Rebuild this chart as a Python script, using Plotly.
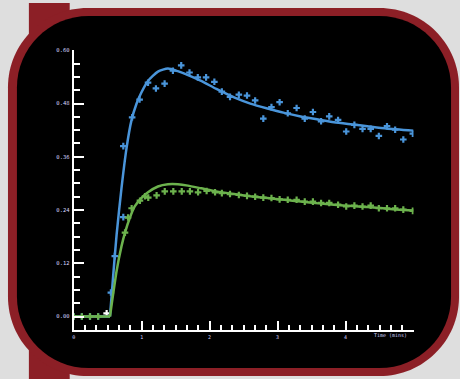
import plotly.graph_objects as go

# ---------------- data ----------------
blue_pts_x = [0.0, 0.12, 0.24, 0.36, 0.485, 0.547, 0.605, 0.73, 0.73, 0.86, 0.97, 1.094, 1.21, 1.338,
              1.46, 1.582, 1.704, 1.826, 1.948, 2.07, 2.18, 2.30, 2.43, 2.55, 2.67, 2.79, 2.91,
              3.03, 3.15, 3.28, 3.40, 3.52, 3.64, 3.76, 3.89, 4.01, 4.13, 4.25, 4.37, 4.49, 4.61,
              4.73, 4.85, 4.99]
blue_pts_y = [0.0, 0.0, 0.0, 0.0, 0.007, 0.054, 0.136, 0.224, 0.384, 0.449, 0.489, 0.527, 0.514, 0.525,
              0.554, 0.566, 0.550, 0.539, 0.539, 0.529, 0.507, 0.495, 0.500, 0.498, 0.487, 0.446, 0.472,
              0.483, 0.458, 0.470, 0.446, 0.461, 0.440, 0.451, 0.443, 0.417, 0.432, 0.423, 0.423, 0.407,
              0.429, 0.421, 0.399, 0.412]

green_pts_x = [0.0, 0.12, 0.24, 0.36, 0.755, 0.80, 0.853, 0.975, 1.049, 1.097, 1.22, 1.34, 1.466, 1.59,
               1.71, 1.83, 1.956, 2.08, 2.18, 2.30, 2.43, 2.55, 2.67, 2.79, 2.91, 3.03, 3.15, 3.28,
               3.40, 3.52, 3.64, 3.76, 3.89, 4.01, 4.13, 4.25, 4.37, 4.49, 4.61, 4.73, 4.85, 4.99]
green_pts_y = [0.0, 0.0, 0.0, 0.0, 0.189, 0.223, 0.244, 0.261, 0.271, 0.268, 0.273, 0.282, 0.282, 0.282,
               0.282, 0.280, 0.283, 0.280, 0.278, 0.276, 0.274, 0.272, 0.270, 0.268, 0.267, 0.264,
               0.263, 0.263, 0.259, 0.259, 0.256, 0.256, 0.252, 0.248, 0.250, 0.248, 0.250, 0.244,
               0.244, 0.244, 0.241, 0.238]

blue_fit_x = [0.0, 0.534, 0.58, 0.632, 0.703, 0.776, 0.850, 0.923, 0.996, 1.094, 1.240, 1.387, 1.53,
              1.70, 1.875, 2.10, 2.36, 2.60, 2.85, 3.10, 3.34, 3.60, 3.83, 4.10, 4.32, 4.60, 5.0]
blue_fit_y = [0.0, 0.0, 0.09, 0.185, 0.289, 0.378, 0.442, 0.479, 0.505, 0.531, 0.552, 0.559, 0.553,
              0.543, 0.531, 0.513, 0.494, 0.480, 0.469, 0.459, 0.451, 0.444, 0.438, 0.433, 0.429,
              0.424, 0.419]

green_fit_x = [0.0, 0.534, 0.632, 0.703, 0.755, 0.825, 0.898, 0.996, 1.094, 1.240, 1.387, 1.533, 1.680,
               1.875, 2.10, 2.36, 2.60, 2.85, 3.10, 3.34, 3.60, 3.83, 4.10, 4.32, 4.60, 5.0]
green_fit_y = [0.0, 0.0, 0.103, 0.158, 0.189, 0.222, 0.248, 0.267, 0.280, 0.293, 0.298, 0.298, 0.295,
               0.289, 0.282, 0.276, 0.271, 0.267, 0.263, 0.259, 0.255, 0.252, 0.249, 0.247, 0.243,
               0.239]

y_major = [0.0, 0.12, 0.24, 0.36, 0.48, 0.60]
y_labels = ["0.00", "0.12", "0.24", "0.36", "0.48", "0.60"]
x_major = [0, 1, 2, 3, 4, 5]
x_labels = ["0", "1", "2", "3", "4", ""]
x_title = "Time (mins)"

# ---------------- style / geometry ----------------
W, H = 460, 379
BLUE = "#4a95da"
GREEN = "#6cb24d"
RED = "#8c1f26"
LABEL = "#d4d4ff"
FONT = "DejaVu Sans Mono"


def px(x):
    return x / W


def py(y):
    return 1 - y / H


def rrect(x0, y0, x1, y1, r):
    k = 0.5523 * r
    pts = [
        ("M", [(x0 + r, y0)]),
        ("L", [(x1 - r, y0)]),
        ("C", [(x1 - r + k, y0), (x1, y0 + r - k), (x1, y0 + r)]),
        ("L", [(x1, y1 - r)]),
        ("C", [(x1, y1 - r + k), (x1 - r + k, y1), (x1 - r, y1)]),
        ("L", [(x0 + r, y1)]),
        ("C", [(x0 + r - k, y1), (x0, y1 - r + k), (x0, y1 - r)]),
        ("L", [(x0, y0 + r)]),
        ("C", [(x0, y0 + r - k), (x0 + r - k, y0), (x0 + r, y0)]),
    ]
    s = ""
    for cmd, ps in pts:
        s += cmd + " " + " ".join(f"{px(a):.5f},{py(b):.5f}" for a, b in ps) + " "
    return s + "Z"


# axis pixel geometry
X_LEFT, X_RIGHT = 72, 413.3
Y_TOP, Y_BOT = 47.7, 330
Y_ZERO = 316
y_per_px = 0.60 / (Y_ZERO - Y_TOP)
y_min = -(Y_BOT - Y_ZERO) * y_per_px

y_minor = [round(i * 0.03, 2) for i in range(21) if i % 4 != 0]
x_minor = [i / 6 for i in range(31) if i % 6 != 0]

fig = go.Figure()


def add_fit(xs, ys, color):
    # flat baseline part drawn straight, rising/decaying part smoothed
    fig.add_trace(go.Scatter(x=xs[:2], y=ys[:2], mode="lines",
                             line=dict(color=color, width=2.5),
                             showlegend=False, hoverinfo="skip"))
    fig.add_trace(go.Scatter(x=xs[1:], y=ys[1:], mode="lines",
                             line=dict(color=color, width=2.5, shape="spline", smoothing=0.6),
                             showlegend=False, hoverinfo="skip"))


fig.add_trace(go.Scatter(x=blue_pts_x, y=blue_pts_y, mode="markers",
                         marker=dict(symbol="cross", size=5.5,
                                     color=["#ffffff" if 0.4 < v < 0.5 else BLUE for v in blue_pts_x]),
                         showlegend=False, hoverinfo="skip"))
add_fit(blue_fit_x, blue_fit_y, BLUE)
fig.add_trace(go.Scatter(x=green_pts_x, y=green_pts_y, mode="markers",
                         marker=dict(symbol="cross", size=5.5, color=GREEN),
                         showlegend=False, hoverinfo="skip"))
add_fit(green_fit_x, green_fit_y, GREEN)

shapes = [
    dict(type="rect", xref="paper", yref="paper", x0=px(27), x1=px(68), y0=0, y1=1,
         fillcolor=RED, line=dict(width=0), layer="below"),
    dict(type="path", xref="paper", yref="paper", path=rrect(6, 5, 459, 376, 80),
         fillcolor=RED, line=dict(width=0), layer="below"),
    dict(type="path", xref="paper", yref="paper", path=rrect(15, 13, 451, 368, 72),
         fillcolor="#000000", line=dict(width=0), layer="below"),
]

fig.update_layout(
    width=W, height=H,
    margin=dict(l=0, r=0, t=0, b=0),
    paper_bgcolor="#dedede",
    plot_bgcolor="rgba(0,0,0,0)",
    shapes=shapes,
    xaxis=dict(
        domain=[px(X_LEFT), px(X_RIGHT)], range=[0, 5],
        showgrid=False, zeroline=False,
        showline=True, linecolor="#ffffff", linewidth=2,
        ticks="inside", ticklen=9, tickwidth=2, tickcolor="#ffffff",
        tickmode="array", tickvals=x_major, ticktext=x_labels,
        tickfont=dict(family=FONT, size=5, color=LABEL),
        ticklabelstandoff=1,
        minor=dict(ticks="inside", ticklen=5, tickwidth=2, tickcolor="#ffffff",
                   tickmode="array", tickvals=x_minor),
    ),
    yaxis=dict(
        domain=[py(Y_BOT), py(Y_TOP)], range=[y_min, 0.60],
        showgrid=False, zeroline=False,
        showline=True, linecolor="#ffffff", linewidth=2,
        ticks="inside", ticklen=10, tickwidth=2, tickcolor="#ffffff",
        tickmode="array", tickvals=y_major, ticktext=y_labels,
        tickfont=dict(family=FONT, size=5.5, color=LABEL),
        ticklabelstandoff=1,
        minor=dict(ticks="inside", ticklen=6, tickwidth=2, tickcolor="#ffffff",
                   tickmode="array", tickvals=y_minor),
    ),
    annotations=[dict(text=x_title, xref="paper", yref="paper", x=px(390), y=py(335),
                      showarrow=False, font=dict(family=FONT, size=5, color=LABEL),
                      xanchor="center", yanchor="middle")],
)

fig.write_html("out.html", config={"displayModeBar": False},
               post_script="document.body.style.margin='0';")
